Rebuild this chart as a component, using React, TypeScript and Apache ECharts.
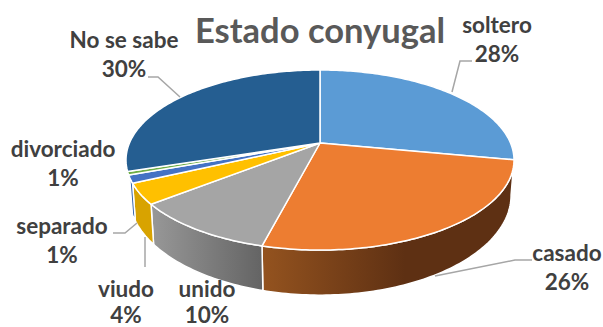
import React, { useEffect, useRef } from "react";
import * as echarts from "echarts";

const categories = ["soltero", "casado", "unido", "viudo", "separado", "divorciado", "No se sabe"];
const shares = [28, 26, 10.3, 3.7, 1.4, 0.6, 30];
const shownPercents = [28, 26, 10, 4, 1, 1, 30];

const topColors = ["#5b9bd5", "#ed7d31", "#a5a5a5", "#ffc000", "#4472c4", "#70ad47", "#255e91"];

const SIDE_FROM = 27.9;
const SIDE_TO = 69.0;
const CX = 320;
const CY = 143;
const RX = 190.5;
const A = 86.8;
const B = -0.189;

const labelBoxes = [
  { x: 497, y: 39, lh: 29 },
  { x: 567, y: 267, lh: 29 },
  { x: 207, y: 301, lh: 26 },
  { x: 126, y: 301, lh: 26 },
  { x: 62, y: 240, lh: 29 },
  { x: 63, y: 163, lh: 29 },
  { x: 124, y: 54, lh: 29 },
];

const leaders = [
  [[452, 92], [460, 61], [472, 61]],
  [[435, 276], [515, 260], [532, 260]],
  [[145, 237], [145, 267]],
  [[137, 223], [125, 233], [113, 233]],
  [[180, 97], [158, 77], [148, 77]],
];

function rim(pct: number): number[] {
  const t = (pct / 100) * Math.PI * 2;
  const u = Math.sin(t);
  const v = -Math.cos(t);
  const d = 1 + B * v;
  return [CX + (RX * u) / d, CY + (A * v) / d];
}

function lowerRim(pct: number): number[] {
  const [x, y] = rim(pct);
  return [CX + 0.985 * (x - CX), 1.11 * y + 17.6];
}

function arcPoints(from: number, to: number, fn: (p: number) => number[]): number[][] {
  const n = Math.max(2, Math.ceil((to - from) * 3.6));
  const out: number[][] = [];
  for (let i = 0; i <= n; i++) out.push(fn(from + ((to - from) * i) / n));
  return out;
}

function sideFill(i: number) {
  const grad = (x0: number, x1: number, c0: string, c1: string) =>
    new echarts.graphic.LinearGradient(x0, 0, x1, 0, [
      { offset: 0, color: c0 },
      { offset: 1, color: c1 },
    ], true);
  if (i === 1) return grad(262, 405, "#94531f", "#5e3013");
  if (i === 2) return grad(153, 262, "#979797", "#646464");
  if (i === 3) return "#d8a300";
  if (i === 4) return "#2f5fa8";
  return "#5e3013";
}

const ranges = (() => {
  let c = 0;
  return shares.map((s) => {
    const r = [c, c + s];
    c += s;
    return r;
  });
})();

export default function App() {
  const ref = useRef<HTMLDivElement>(null);
  useEffect(() => {
    const chart = echarts.init(ref.current!, undefined, { renderer: "svg" });
    chart.setOption({
      animation: false,
      backgroundColor: "#ffffff",
      title: {
        text: "Estado conyugal",
        left: 315,
        top: 7,
        textAlign: "center",
        textStyle: { fontFamily: "Lato", fontWeight: "bold", fontSize: 34.5, color: "#595959" },
      },
      graphic: [
        ...leaders.map((pts) => ({
          type: "polyline",
          z: 5,
          shape: { points: pts },
          style: { stroke: "#a6a6a6", lineWidth: 1.5, fill: "none" },
        })),
        ...categories.map((name, i) => ({
          type: "text",
          z: 6,
          x: labelBoxes[i].x,
          y: labelBoxes[i].y,
          style: {
            text: `${name}\n${shownPercents[i]}%`,
            fontFamily: "Lato",
            fontWeight: "bold",
            fontSize: 22.5,
            lineHeight: labelBoxes[i].lh,
            fill: "#404040",
            align: "center",
            verticalAlign: "middle",
          },
        })),
      ],
      series: [
        {
          type: "custom",
          coordinateSystem: "none",
          silent: true,
          z: 1,
          data: ranges.map((r, i) => [r[0], r[1], i]),
          renderItem: (_p: any, api: any) => {
            const from = Math.max(api.value(0), SIDE_FROM);
            const to = Math.min(api.value(1), SIDE_TO);
            const i = api.value(2);
            if (to <= from) return { type: "group", children: [] };
            const pts = [...arcPoints(from, to, rim), ...arcPoints(from, to, lowerRim).reverse()];
            return {
              type: "polygon",
              shape: { points: pts },
              style: { fill: sideFill(i), stroke: "#ffffff", lineWidth: 1.5 },
            };
          },
        },
        {
          type: "custom",
          coordinateSystem: "none",
          silent: true,
          z: 2,
          data: ranges.map((r, i) => [r[0], r[1], i]),
          renderItem: (_p: any, api: any) => {
            const i = api.value(2);
            const pts = [[CX, CY], ...arcPoints(api.value(0), api.value(1), rim)];
            return {
              type: "polygon",
              shape: { points: pts },
              style: { fill: topColors[i], stroke: "#ffffff", lineWidth: 1.5, lineJoin: "round" },
            };
          },
        },
      ],
    });
    return () => chart.dispose();
  }, []);
  return <div ref={ref} style={{ position: "absolute", left: 0, top: 0, width: 603, height: 327 }} />;
}
